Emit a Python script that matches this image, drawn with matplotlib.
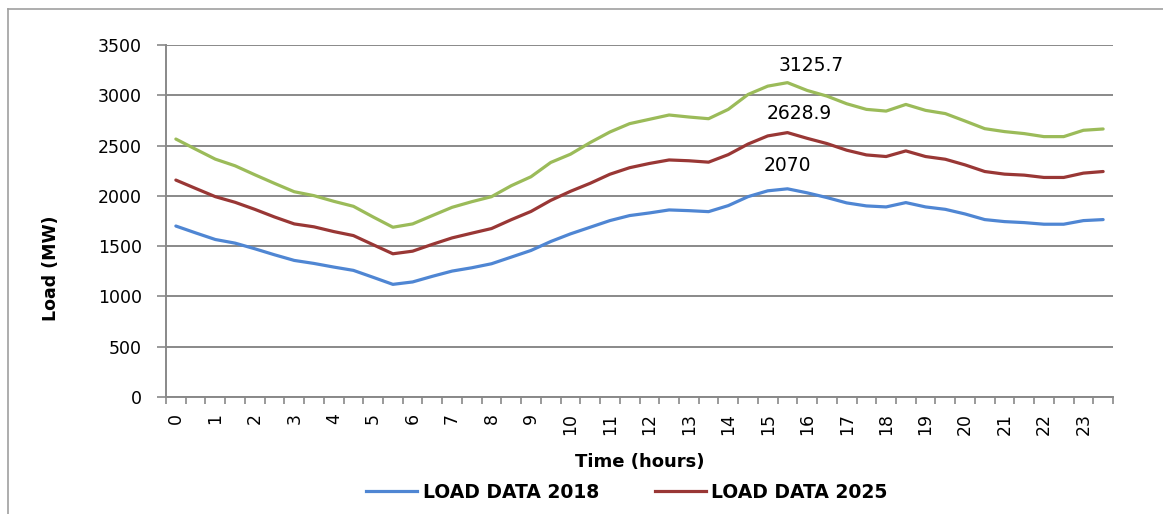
import numpy as np
import matplotlib
matplotlib.use("Agg")
import matplotlib.pyplot as plt
from matplotlib.lines import Line2D

# half-hourly load values (48 points), labels every hour
hour_labels = [str(h) for h in range(24)]
load_2018 = [1700, 1632, 1566, 1530, 1474, 1414, 1358, 1328, 1292, 1259,
             1190, 1120, 1144, 1200, 1252, 1285, 1325, 1391, 1457, 1546,
             1622, 1688, 1754, 1804, 1830, 1860, 1853, 1843, 1903, 1992,
             2050, 2070, 2030, 1983, 1930, 1900, 1890, 1933, 1890, 1866,
             1820, 1764, 1744, 1734, 1718, 1718, 1754, 1764]
load_2025 = [2157, 2074, 1992, 1936, 1866, 1790, 1721, 1692, 1645, 1605,
             1514, 1424, 1450, 1518, 1582, 1629, 1675, 1763, 1845, 1955,
             2045, 2125, 2215, 2280, 2322, 2357, 2349, 2335, 2410, 2515,
             2596, 2628.9, 2572, 2520, 2454, 2407, 2391, 2447, 2391, 2364,
             2308, 2242, 2216, 2206, 2183, 2183, 2226, 2242]
load_third = [2565, 2464, 2365, 2299, 2210, 2124, 2041, 2002, 1946, 1896,
              1790, 1688, 1721, 1804, 1886, 1942, 1992, 2101, 2190, 2332,
              2414, 2530, 2635, 2718, 2761, 2804, 2784, 2767, 2860, 3008,
              3091, 3125.7, 3048, 2992, 2916, 2860, 2843, 2909, 2850, 2818,
              2744, 2668, 2639, 2619, 2589, 2589, 2652, 2665]
peak_labels = ["2070", "2628.9", "3125.7"]
legend_names = ["LOAD DATA 2018", "LOAD DATA 2025"]

plt.rcParams['font.family'] = ['DejaVu Sans']

W, H = 1163, 514
fig = plt.figure(figsize=(W / 100, H / 100), dpi=100)
ax = fig.add_axes([166 / W, 1 - 397 / H, (1113 - 166) / W, (397 - 45) / H])

x = np.arange(len(load_2018))
c_blue, c_red, c_green = "#4F86D3", "#993735", "#9BBB59"
grid_c = "#898989"

ax.plot(x, load_third, color=c_green, lw=2.3, solid_capstyle='round', zorder=3)
ax.plot(x, load_2025, color=c_red, lw=2.3, solid_capstyle='round', zorder=3)
ax.plot(x, load_2018, color=c_blue, lw=2.3, solid_capstyle='round', zorder=3)

ax.set_xlim(-0.5, len(x) - 0.5)
ax.set_ylim(0, 3500)
ax.set_yticks(np.arange(0, 3501, 500))
ax.yaxis.grid(True, color=grid_c, lw=1.4)
ax.set_axisbelow(True)

ax.set_xticks(np.arange(0, len(x), 2))
ax.set_xticklabels(hour_labels, rotation=90, fontsize=12.5)
ax.set_xticks(np.arange(-0.5, len(x), 1), minor=True)
ax.tick_params(axis='x', which='major', length=0, pad=11.5)
ax.tick_params(axis='x', which='minor', length=5, width=1.2, color=grid_c)
ax.tick_params(axis='y', length=6.5, width=1.2, color=grid_c, pad=11, labelsize=12.5)

for s in ['top', 'right']:
    ax.spines[s].set_visible(False)
for s in ['left', 'bottom']:
    ax.spines[s].set_color(grid_c)
    ax.spines[s].set_linewidth(1.4)

# peak annotations
series = [load_2018, load_2025, load_third]
offsets = [(0, 23), (12, 19), (24, 17)]
for vals, lab, off in zip(series, peak_labels, offsets):
    i = int(np.argmax(vals))
    ax.annotate(lab, xy=(i, vals[i]), xytext=off, textcoords='offset pixels',
                ha='center', va='center', fontsize=13.5)

fig.text(51 / W, 1 - 268 / H, "Load (MW)", rotation=90, ha='center', va='center',
         fontsize=12.5, fontweight='bold')
fig.text(640 / W, 1 - 462 / H, "Time (hours)", ha='center', va='center',
         fontsize=13, fontweight='bold')

handles = [Line2D([], [], color=c_blue, lw=2.3), Line2D([], [], color=c_red, lw=2.3)]
fig.legend(handles, legend_names, loc='center', bbox_to_anchor=(627 / W, 1 - 492 / H),
           ncol=2, frameon=False, handlelength=2.7, handletextpad=0.3,
           columnspacing=3.0, prop={'weight': 'bold', 'size': 13.5})

# outer frame fragments
fig.add_artist(Line2D([8 / W, 8 / W], [0, 1 - 9 / H], color="#A0A0A0", lw=1.2))
fig.add_artist(Line2D([8 / W, 1], [1 - 9 / H, 1 - 9 / H], color="#A0A0A0", lw=1.2))

fig.savefig("out.png", dpi=100)
